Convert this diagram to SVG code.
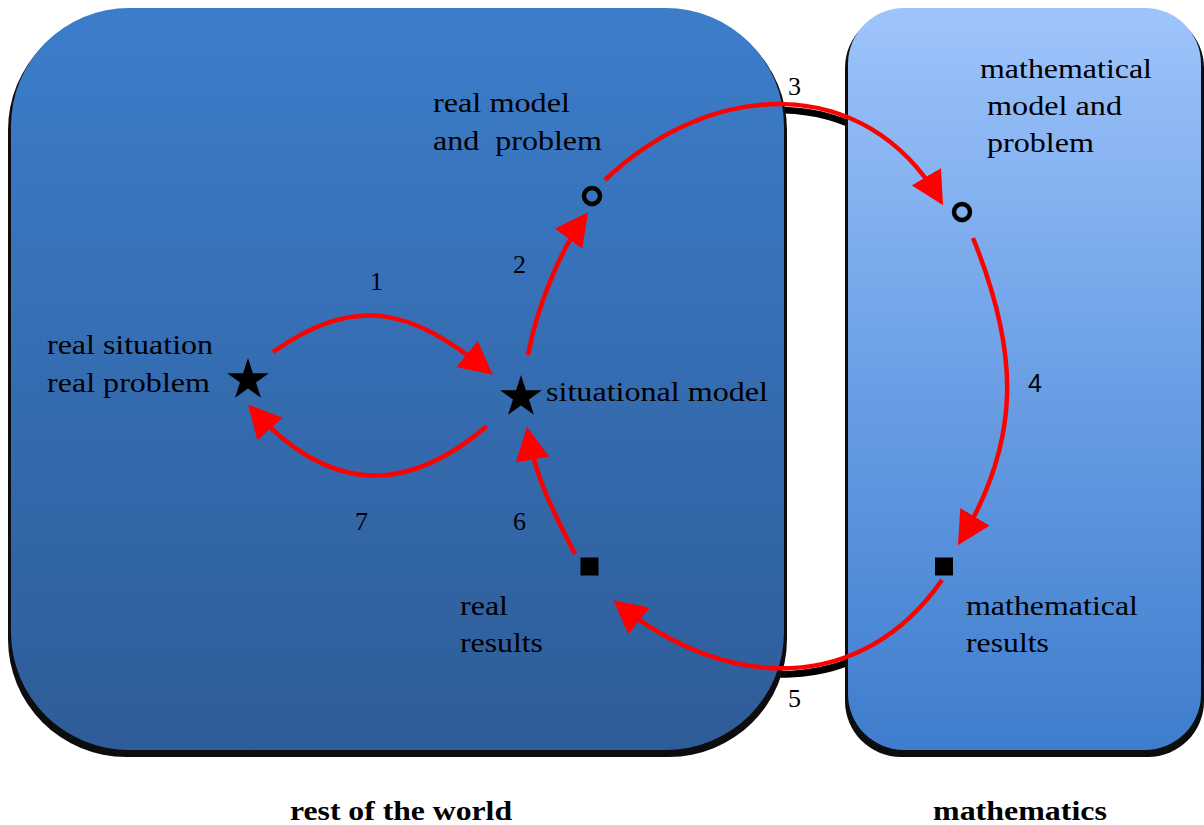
<svg xmlns="http://www.w3.org/2000/svg" width="1204" height="825" viewBox="0 0 1204 825">
  <style>
    .lbl { font-family: "Liberation Serif", "Times New Roman", serif; font-size: 28px; fill: #000; }
    .num { font-family: "Liberation Serif", "Times New Roman", serif; font-size: 26px; fill: #000; }
    .nums { font-family: "Liberation Sans", Arial, sans-serif; font-size: 25px; fill: #000; }
    .title { font-family: "Liberation Serif", "Times New Roman", serif; font-size: 28px; font-weight: bold; fill: #000; }
    .arc { fill: none; stroke: #ff0000; stroke-width: 4.5; marker-end: url(#ah); }
    .arcshadow { fill: none; stroke: #000; stroke-width: 7; }
    .shadow { fill: #0d0d0d; }
    .ring { fill: none; stroke: #000; stroke-width: 4.5; }
  </style>
  <defs>
    <linearGradient id="gWorld" x1="0" y1="0" x2="0" y2="1">
      <stop offset="0" stop-color="#3C7DCA"/>
      <stop offset="1" stop-color="#2E5C98"/>
    </linearGradient>
    <linearGradient id="gMath" x1="0" y1="0" x2="0" y2="1">
      <stop offset="0" stop-color="#9EC4FB"/>
      <stop offset="0.5" stop-color="#6B9FE5"/>
      <stop offset="1" stop-color="#3E7DCD"/>
    </linearGradient>
    <marker id="ah" viewBox="0 0 33 34" refX="27" refY="17" markerWidth="33" markerHeight="34" markerUnits="userSpaceOnUse" orient="auto">
      <path d="M0,0 L33,17 L0,34 z" fill="#ff0000"/>
    </marker>
    <path id="star" d="M0,-22 L4.94,-6.8 L20.92,-6.8 L7.99,2.6 L12.93,17.8 L0,8.4 L-12.93,17.8 L-7.99,2.6 L-20.92,-6.8 L-4.94,-6.8 z"/>
  </defs>

  <!-- arc shadows (visible only in gap between boxes) -->
  <g id="arc-shadows" transform="translate(0,6)">
    <path class="arcshadow" d="M605,180 C710,80 864,71 940,200"/>
    <path class="arcshadow" d="M942,580 C862,695 727,692 618,604"/>
  </g>

  <g id="box-world">
    <rect class="shadow" x="8" y="12" width="779" height="745" rx="118"/>
    <rect x="11" y="8" width="773" height="742" rx="118" fill="url(#gWorld)"/>
  </g>
  <g id="box-math">
    <rect class="shadow" x="845" y="12" width="359" height="745" rx="56"/>
    <rect x="848" y="8" width="353" height="742" rx="56" fill="url(#gMath)"/>
  </g>

  <g id="connectors">
    <path class="arc" d="M273,352 C355,295 409,307 488,371"/>
    <path class="arc" d="M528,355 C537,306 561,249 584.5,217"/>
    <path class="arc" d="M605,180 C710,80 864,71 940,200"/>
    <path class="arc" d="M973,238 C1018,349 1023,437 961,540"/>
    <path class="arc" d="M942,580 C862,695 727,692 618,604"/>
    <path class="arc" d="M575,554 C555,515 536,480 528,433"/>
    <path class="arc" d="M487,426 C403,498 326,491 252,409"/>
    <text class="num" x="370" y="290">1</text>
    <text class="num" x="513" y="273">2</text>
    <text class="num" x="788" y="95">3</text>
    <text class="nums" x="1028" y="392">4</text>
    <text class="num" x="788" y="707">5</text>
    <text class="num" x="513" y="530">6</text>
    <text class="num" x="355" y="530">7</text>
  </g>

  <g id="node-real-situation">
    <use href="#star" x="248" y="380"/>
    <text class="lbl" x="47" y="354" textLength="166" lengthAdjust="spacingAndGlyphs">real situation</text>
    <text class="lbl" x="47" y="392" textLength="163" lengthAdjust="spacingAndGlyphs">real problem</text>
  </g>
  <g id="node-situational-model">
    <use href="#star" x="521" y="397"/>
    <text class="lbl" x="546" y="401" textLength="222" lengthAdjust="spacingAndGlyphs">situational model</text>
  </g>
  <g id="node-real-model">
    <circle class="ring" cx="592" cy="196" r="8"/>
    <text class="lbl" x="433" y="112" textLength="137" lengthAdjust="spacingAndGlyphs">real model</text>
    <text class="lbl" x="433" y="150" textLength="169" lengthAdjust="spacingAndGlyphs" xml:space="preserve">and  problem</text>
  </g>
  <g id="node-math-model">
    <circle class="ring" cx="962" cy="212" r="8"/>
    <text class="lbl" x="980" y="78" textLength="172" lengthAdjust="spacingAndGlyphs">mathematical</text>
    <text class="lbl" x="987" y="115" textLength="135" lengthAdjust="spacingAndGlyphs">model and</text>
    <text class="lbl" x="987" y="152" textLength="107" lengthAdjust="spacingAndGlyphs">problem</text>
  </g>
  <g id="node-math-results">
    <rect x="935" y="557.5" width="18" height="18" fill="#000"/>
    <text class="lbl" x="966" y="615" textLength="172" lengthAdjust="spacingAndGlyphs">mathematical</text>
    <text class="lbl" x="966" y="652" textLength="83" lengthAdjust="spacingAndGlyphs">results</text>
  </g>
  <g id="node-real-results">
    <rect x="580.5" y="557.5" width="18" height="18" fill="#000"/>
    <text class="lbl" x="460" y="615" textLength="48" lengthAdjust="spacingAndGlyphs">real</text>
    <text class="lbl" x="460" y="652" textLength="83" lengthAdjust="spacingAndGlyphs">results</text>
  </g>

  <g id="titles">
    <text class="title" x="290" y="820" textLength="222" lengthAdjust="spacingAndGlyphs">rest of the world</text>
    <text class="title" x="933" y="820" textLength="174" lengthAdjust="spacingAndGlyphs">mathematics</text>
  </g>
</svg>
